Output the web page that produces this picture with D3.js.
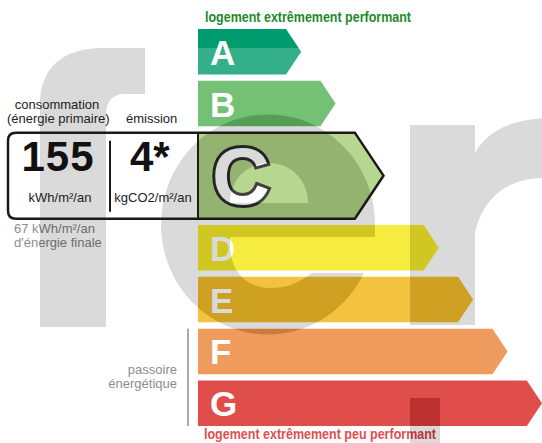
<!DOCTYPE html>
<html lang="fr">
<head>
    <meta charset="utf-8">
    <title>DPE</title>
    <script src="https://d3js.org/d3.v7.min.js"></script>
    <style>
        body { margin: 0; background: #fff; }
        text { font-family: "Liberation Sans", Arial, sans-serif; }
        .narrow { font-family: "Liberation Sans Narrow", "Arial Narrow", "Liberation Sans", sans-serif; }
    </style>
</head>
<body>
    <div id="chart"></div>
    <script>

        // energy classes and their bars
        const classes = ["A", "B", "C", "D", "E", "F", "G"];
        const classColors = ["#009c6d", "#52b153", "#a5cc74", "#f4e70f", "#f0b50f", "#eb8235", "#d7221f"];
        const classLengths = [0.3, 0.4, 0.5, 0.7, 0.8, 0.9, 1.0];
        const activeClass = "C";

        // values shown in the box
        const consumption = "155";
        const emission = "4*";
        const finalEnergy = 67;
        const labels = {
            top: "logement extrêmement performant",
            bottom: "logement extrêmement peu performant",
            cons1: "consommation",
            cons2: "(énergie primaire)",
            emis: "émission",
            unitCons: "kWh/m²/an",
            unitEmis: "kgCO2/m²/an",
            passoire: ["passoire", "énergétique"]
        };

        const W = 542, H = 443;
        const svg = d3.select("#chart").append("svg")
            .attr("width", W)
            .attr("height", H);

        const x = d3.scaleLinear().domain([0, 1]).range([198, 542]);

        // vertical layout: normal rows and one taller active row
        const rowH = 45.5, activeH = 86, gap = 6.33;
        let yy = 29;
        const rows = classes.map((c, i) => {
            const h = c === activeClass ? activeH : rowH;
            const r = { c, i, y: yy, h, color: classColors[i], len: classLengths[i], active: c === activeClass };
            yy += h + gap;
            return r;
        });

        const barPath = d => {
            const body = x(d.len) - rowH / 3;
            const tip = body + d.h / 3;
            return `M${x(0)},${d.y}H${body}L${tip},${d.y + d.h / 2}L${body},${d.y + d.h}H${x(0)}Z`;
        };

        // titles
        svg.append("text").attr("class", "narrow")
            .attr("x", 205).attr("y", 22)
            .attr("textLength", 206).attr("lengthAdjust", "spacingAndGlyphs")
            .style("font-size", "14px").style("font-weight", "bold")
            .attr("fill", "#1d8a2a")
            .text(labels.top);

        const act = rows.find(d => d.active);

        // left box for the active class
        const bx = 8, r = 8;
        svg.append("path")
            .attr("d", `M${x(0)},${act.y}H${bx + r}Q${bx},${act.y} ${bx},${act.y + r}V${act.y + act.h - r}Q${bx},${act.y + act.h} ${bx + r},${act.y + act.h}H${x(0)}Z`)
            .attr("fill", "#fff");

        // bars
        svg.selectAll("path.bar")
            .data(rows)
            .enter()
                .append("path")
                .attr("class", "bar")
                .attr("d", barPath)
                .attr("fill", d => d.color);

        // class letters
        svg.selectAll("text.letter")
            .data(rows)
            .enter()
                .append("text")
                .attr("class", "letter narrow")
                .attr("x", d => d.active ? 212 : 210)
                .attr("y", d => d.y + d.h / 2 + (d.active ? 28.5 : 13))
                .style("font-size", d => d.active ? "80px" : "35px")
                .style("font-weight", "bold")
                .attr("fill", "#fff")
                .attr("stroke", d => d.active ? "#111" : "none")
                .attr("stroke-width", 6)
                .style("paint-order", "stroke")
                .text(d => d.c);

        svg.append("text").attr("x", 14).attr("y", 233)
            .style("font-size", "13px").attr("fill", "#707070").text(`${finalEnergy} kWh/m²/an`);
        svg.append("text").attr("x", 14).attr("y", 247)
            .style("font-size", "13px").attr("fill", "#707070").text("d'énergie finale");

        // passoire marker
        const fRow = rows[5], gRow = rows[6];
        svg.append("line")
            .attr("x1", 188).attr("x2", 188)
            .attr("y1", fRow.y).attr("y2", gRow.y + gRow.h)
            .attr("stroke", "#959595").attr("stroke-width", 2);
        svg.selectAll("text.passoire")
            .data(labels.passoire)
            .enter()
                .append("text")
                .attr("class", "passoire")
                .attr("x", 177)
                .attr("y", (d, i) => 374 + i * 14)
                .attr("text-anchor", "end")
                .style("font-size", "13px")
                .attr("fill", "#707070")
                .text(d => d);

        svg.append("text").attr("class", "narrow")
            .attr("x", 204).attr("y", 439)
            .attr("textLength", 232).attr("lengthAdjust", "spacingAndGlyphs")
            .style("font-size", "14px").style("font-weight", "bold")
            .attr("fill", "#d7221f")
            .text(labels.bottom);

        // watermark "fer"
        const fGlyph = "M40,327V105C40,68 62,49 100,48H145V94H125C112,94 106,102 106,115V327Z";
        const eGlyph = "M375,237V225A107,110 0 1 0 364,273H312C298,284 285,288 270,288C245,288 230,270 230,245V237Z"
            + "M230,203C230,180 247,163 269,163C291,163 308,180 308,203Z";
        const rGlyph = "M410,325V125H475V153C485,135 505,120 545,118V178C515,178 490,190 478,222L475,232V325Z";
        const dot = "M410,398H440V450H410Z";
        const glyphs = [fGlyph, eGlyph, rGlyph, dot].join("");

        const mask = svg.append("defs").append("mask").attr("id", "wm");
        mask.append("rect").attr("x", 0).attr("y", 48).attr("width", W).attr("height", H - 48).attr("fill", "#fff");
        mask.append("path").attr("d", glyphs).attr("fill", "#000").attr("fill-rule", "evenodd");

        svg.append("rect")
            .attr("x", 0).attr("y", 48).attr("width", W).attr("height", H - 48)
            .attr("fill", "#fff").attr("fill-opacity", 0.2)
            .attr("mask", "url(#wm)");
        svg.append("path")
            .attr("d", glyphs)
            .attr("fill-rule", "evenodd")
            .attr("fill", "rgb(100,100,100)")
            .attr("fill-opacity", 0.24);

        // dark outline and box texts stay on top
        const body = x(act.len) - rowH / 3;
        svg.append("path")
            .attr("d", `M${x(0)},${act.y}H${body}L${body + act.h / 3},${act.y + act.h / 2}L${body},${act.y + act.h}H${bx + r}Q${bx},${act.y + act.h} ${bx},${act.y + act.h - r}V${act.y + r}Q${bx},${act.y} ${bx + r},${act.y}Z`)
            .attr("fill", "none")
            .attr("stroke", "#1a1a1a")
            .attr("stroke-width", 2.5);
        svg.append("line")
            .attr("x1", x(0)).attr("x2", x(0))
            .attr("y1", act.y).attr("y2", act.y + act.h)
            .attr("stroke", "#1a1a1a").attr("stroke-width", 2);
        svg.append("line")
            .attr("x1", 110).attr("x2", 110)
            .attr("y1", act.y + 8).attr("y2", act.y + act.h - 7)
            .attr("stroke", "#1a1a1a").attr("stroke-width", 2);

        svg.append("text").attr("x", 57).attr("y", 109).attr("text-anchor", "middle")
            .style("font-size", "13px").attr("fill", "#222").text(labels.cons1);
        svg.append("text").attr("x", 7).attr("y", 123)
            .style("font-size", "13px").attr("fill", "#222").text(labels.cons2);
        svg.append("text").attr("x", 126).attr("y", 123)
            .style("font-size", "13px").attr("fill", "#222").text(labels.emis);

        svg.append("text").attr("x", 58).attr("y", 171).attr("text-anchor", "middle")
            .style("font-size", "42px").style("font-weight", "bold").style("letter-spacing", "1px")
            .attr("fill", "#111").text(consumption);
        svg.append("text").attr("x", 130).attr("y", 171)
            .style("font-size", "42px").style("font-weight", "bold")
            .attr("fill", "#111").text(emission);

        svg.append("text").attr("x", 60).attr("y", 202).attr("text-anchor", "middle")
            .style("font-size", "13px").attr("fill", "#222").text(labels.unitCons);
        svg.append("text").attr("x", 153).attr("y", 202).attr("text-anchor", "middle")
            .style("font-size", "13px").attr("fill", "#222").text(labels.unitEmis);

    </script>
</body>
</html>
